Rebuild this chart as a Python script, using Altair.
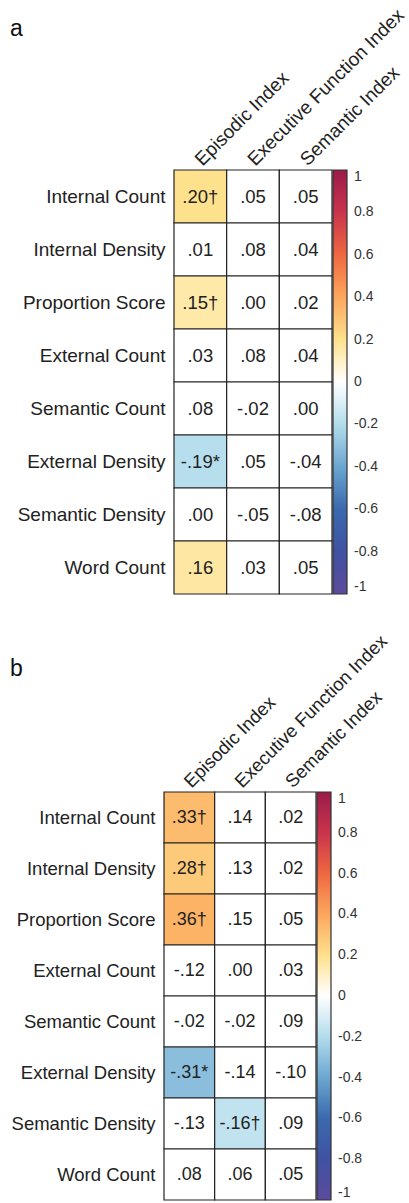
import altair as alt
import pandas as pd

rows = ["Internal Count", "Internal Density", "Proportion Score", "External Count",
        "Semantic Count", "External Density", "Semantic Density", "Word Count"]
cols = ["Episodic Index", "Executive Function Index", "Semantic Index"]

# Panel a values (correlations), significance markers, and shading flags
a_episodic = [0.20, 0.01, 0.15, 0.03, 0.08, -0.19, 0.00, 0.16]
a_executive = [0.05, 0.08, 0.00, 0.08, -0.02, 0.05, -0.05, 0.03]
a_semantic = [0.05, 0.04, 0.02, 0.04, 0.00, -0.04, -0.08, 0.05]
a_episodic_mark = ["†", "", "†", "", "", "*", "", ""]
a_executive_mark = ["", "", "", "", "", "", "", ""]
a_semantic_mark = ["", "", "", "", "", "", "", ""]
a_episodic_shaded = [True, False, True, False, False, True, False, True]
a_executive_shaded = [False] * 8
a_semantic_shaded = [False] * 8

# Panel b
b_episodic = [0.33, 0.28, 0.36, -0.12, -0.02, -0.31, -0.13, 0.08]
b_executive = [0.14, 0.13, 0.15, 0.00, -0.02, -0.14, -0.16, 0.06]
b_semantic = [0.02, 0.02, 0.05, 0.03, 0.09, -0.10, 0.09, 0.05]
b_episodic_mark = ["†", "†", "†", "", "", "*", "", ""]
b_executive_mark = ["", "", "", "", "", "", "†", ""]
b_semantic_mark = ["", "", "", "", "", "", "", ""]
b_episodic_shaded = [True, True, True, False, False, True, False, False]
b_executive_shaded = [False, False, False, False, False, False, True, False]
b_semantic_shaded = [False] * 8

# colour bar
cb_stops = [-1, -0.8, -0.6, -0.4, -0.2, 0, 0.2, 0.4, 0.6, 0.8, 1]
cb_colors = ["#5d4a9b", "#3f52a2", "#3b69ad", "#6ba6d0", "#b2dcec", "#ffffff",
             "#fee18c", "#fca75d", "#ee6840", "#c9344b", "#9b1b4b"]


def fmt(v):
    s = f"{v:.2f}"
    return s.replace("0.", ".", 1)


def build(vals, marks, shaded):
    recs = []
    for c, vv, mm, ss in zip(cols, vals, marks, shaded):
        for r, v, m, s in zip(rows, vv, mm, ss):
            recs.append({"row": r, "col": c, "r": v, "label": fmt(v) + m, "shaded": s})
    return pd.DataFrame(recs)


df_a = build([a_episodic, a_executive, a_semantic],
             [a_episodic_mark, a_executive_mark, a_semantic_mark],
             [a_episodic_shaded, a_executive_shaded, a_semantic_shaded])
df_b = build([b_episodic, b_executive, b_semantic],
             [b_episodic_mark, b_executive_mark, b_semantic_mark],
             [b_episodic_shaded, b_executive_shaded, b_semantic_shaded])

FONT = "Liberation Sans"
TXT = "#222222"


def panel(df, letter, plot_w, x_range, font, cell_font, plot_h, y_off, t_off):
    x = alt.X("col:N", sort=cols,
              scale=alt.Scale(range=x_range, paddingInner=0, paddingOuter=0),
              axis=alt.Axis(orient="top", labelAngle=315, labelAlign="left",
                            labelBaseline="bottom", labelFontSize=font, labelFont=FONT,
                            labelColor=TXT, labelPadding=1, labelOffset=5,
                            ticks=False, tickSize=0, domain=False, title=None,
                            labelLimit=400))
    y = alt.Y("row:N", sort=rows,
              scale=alt.Scale(paddingInner=0, paddingOuter=0),
              axis=alt.Axis(ticks=False, tickSize=0, domain=False, title=None,
                            labelFontSize=font, labelFont=FONT, labelColor=TXT,
                            labelPadding=9, offset=y_off, labelLimit=400))
    fill = alt.when(alt.datum.shaded).then(
        alt.Fill("r:Q",
                 scale=alt.Scale(domain=cb_stops, range=cb_colors, interpolate="rgb"),
                 legend=alt.Legend(title=None, direction="vertical", orient="right",
                                   gradientLength=plot_h, gradientThickness=14,
                                   gradientStrokeColor="#333333", gradientStrokeWidth=1.2,
                                   values=cb_stops, labelExpr="'' + datum.value",
                                   labelFontSize=14, labelFont=FONT, labelColor="#333333",
                                   labelOffset=7, offset=1, padding=0,
                                   labelOverlap=False))
    ).otherwise(alt.value("white"))
    rect = alt.Chart(df).mark_rect(stroke="#222222", strokeWidth=1.2).encode(
        x=x, y=y, fill=fill)
    text = alt.Chart(df).mark_text(fontSize=cell_font, font=FONT, color=TXT).encode(
        x=x, y=y, text="label:N")
    return alt.layer(rect, text).properties(
        width=plot_w, height=plot_h,
        title=alt.TitleParams(letter, anchor="start", frame="group", dx=-154,
                              offset=t_off, fontSize=23, fontWeight="normal",
                              font=FONT, color="#111111"))


pa = panel(df_a, "a", 168, [10, 168], 19, 18.5, 424, -10, -36)
pb = panel(df_b, "b", 152, [0, 152], 18.5, 18, 408, 0, -50)

chart = alt.vconcat(pa, pb, spacing=36).resolve_scale(
    x="independent", y="independent", fill="independent"
).resolve_legend(fill="independent").properties(
    padding={"left": 10, "top": 5, "right": 0, "bottom": 0}
).configure_view(strokeWidth=0)

chart.save("out.html", embed_options={"renderer": "svg", "actions": False})
